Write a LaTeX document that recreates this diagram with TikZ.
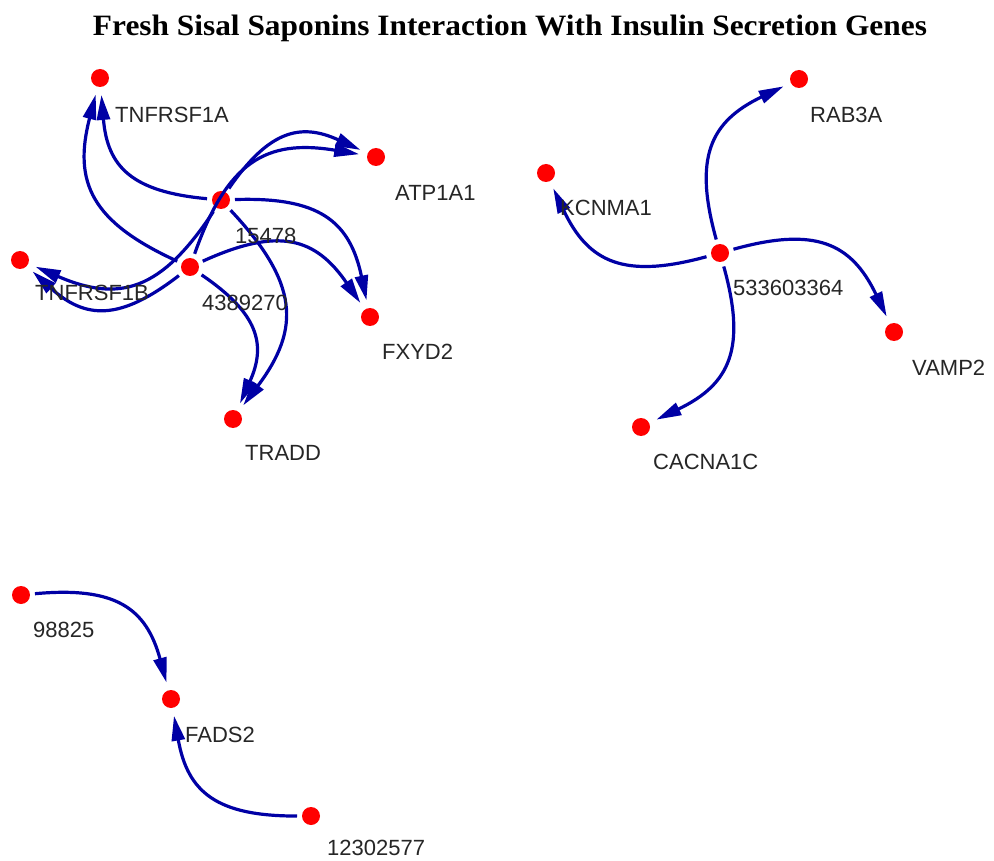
\documentclass[tikz,border=0pt]{standalone}
\usepackage{fontspec}
\setmainfont{Liberation Serif}
\newfontfamily\lblfont{Liberation Sans}
\usetikzlibrary{arrows.meta}
\definecolor{edgeblue}{RGB}{0,0,165}
\definecolor{nodered}{RGB}{255,0,0}
\begin{document}
\begin{tikzpicture}[x=1pt,y=1pt,
  gene/.style={circle,fill=nodered,draw=none,minimum size=18pt,inner sep=0pt,outer sep=0pt},
  lbl/.style={anchor=west,inner sep=0pt,font=\lblfont\fontsize{22}{26}\selectfont,text=black!85},
  link/.style={draw=edgeblue,line width=3.2pt,-{Triangle[length=25pt,width=13pt]},bend left=40,looseness=1.3,shorten <=5pt,shorten >=8pt}]
\useasboundingbox[fill=white] (0,0) rectangle (994,-861);
% title
\node[anchor=base,inner sep=0pt] (title) at (510,-35.5) {\resizebox{834pt}{20.5pt}{\bfseries Fresh Sisal Saponins Interaction With Insulin Secretion Genes}};
% left cluster
\node[gene] (tnfa) at (100,-78) {};
\node[gene] (atp) at (376,-157) {};
\node[gene] (c15478) at (221,-200) {};
\node[gene] (c4389270) at (190,-267) {};
\node[gene] (tnfb) at (20,-260) {};
\node[gene] (fxyd) at (370,-317) {};
\node[gene] (tradd) at (233,-419) {};
% right cluster
\node[gene] (rab) at (799,-79) {};
\node[gene] (kcn) at (546,-173) {};
\node[gene] (c533) at (720,-253) {};
\node[gene] (vamp) at (894,-332) {};
\node[gene] (cac) at (641,-427) {};
% bottom cluster
\node[gene] (c98825) at (21,-595) {};
\node[gene] (fads) at (171,-699) {};
\node[gene] (c123) at (311,-816) {};
% edges
\draw[link] (c15478) to (tnfa);
\draw[link] (c4389270) to (tnfa);
\draw[link] (c15478) to (atp);
\draw[link] (c4389270) to (atp);
\draw[link] (c15478) to (fxyd);
\draw[link] (c4389270) to (fxyd);
\draw[link] (c15478) to (tradd);
\draw[link] (c4389270) to (tradd);
\draw[link] (c15478) to (tnfb);
\draw[link] (c4389270) to (tnfb);
\draw[link] (c533) to (rab);
\draw[link] (c533) to (kcn);
\draw[link] (c533) to (vamp);
\draw[link] (c533) to (cac);
\draw[link] (c98825) to (fads);
\draw[link] (c123) to (fads);
% labels
\node[lbl] (ltnfa) at (115,-115) {TNFRSF1A};
\node[lbl] (latp) at (395,-193) {ATP1A1};
\node[lbl] (l15478) at (235,-236) {15478};
\node[lbl] (l4389270) at (202,-303) {4389270};
\node[lbl] (ltnfb) at (35,-293) {TNFRSF1B};
\node[lbl] (lfxyd) at (382,-352) {FXYD2};
\node[lbl] (ltradd) at (245,-453) {TRADD};
\node[lbl] (lrab) at (810,-115) {RAB3A};
\node[lbl] (lkcn) at (560,-208) {KCNMA1};
\node[lbl] (l533) at (733,-288) {533603364};
\node[lbl] (lvamp) at (912,-368) {VAMP2};
\node[lbl] (lcac) at (653,-462) {CACNA1C};
\node[lbl] (l98825) at (33,-630) {98825};
\node[lbl] (lfads) at (185,-735) {FADS2};
\node[lbl] (l123) at (327,-848) {12302577};
\end{tikzpicture}
\end{document}
